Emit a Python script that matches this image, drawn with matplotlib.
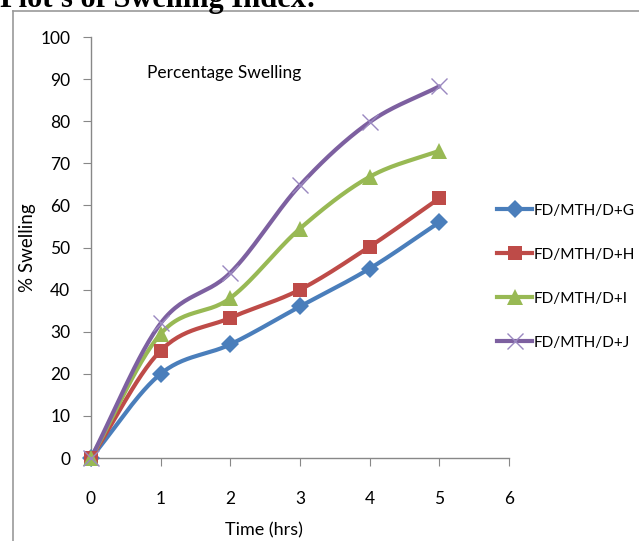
import numpy as np
import matplotlib
matplotlib.use("Agg")
import matplotlib.pyplot as plt
from matplotlib.lines import Line2D

# data
time_hrs = [0, 1, 2, 3, 4, 5]
swell_g = [0, 20, 27, 36, 45, 56]
swell_h = [0, 25.5, 33.3, 40, 50.2, 61.7]
swell_i = [0, 29.5, 38, 54.5, 66.8, 73]
swell_j = [0, 32, 44, 64.8, 79.8, 88.3]
labels = ["FD/MTH/D+G", "FD/MTH/D+H", "FD/MTH/D+I", "FD/MTH/D+J"]


def smooth(x, y, n=30):
    # Catmull-Rom curve through the points, like Excel's smoothed line
    x = np.asarray(x, float)
    y = np.asarray(y, float)
    px = np.concatenate([[2 * x[0] - x[1]], x, [2 * x[-1] - x[-2]]])
    py = np.concatenate([[2 * y[0] - y[1]], y, [2 * y[-1] - y[-2]]])
    xs, ys = [], []
    t = np.linspace(0, 1, n)
    for i in range(1, len(px) - 2):
        for p, out in ((px, xs), (py, ys)):
            p0, p1, p2, p3 = p[i - 1], p[i], p[i + 1], p[i + 2]
            out.extend(0.5 * ((2 * p1) + (-p0 + p2) * t
                              + (2 * p0 - 5 * p1 + 4 * p2 - p3) * t ** 2
                              + (-p0 + 3 * p1 - 3 * p2 + p3) * t ** 3))
    return xs, ys


plt.rcParams['font.family'] = ['Lato', 'DejaVu Sans']

fig = plt.figure(figsize=(6.39, 5.41), dpi=100)
ax = fig.add_axes([0.1424, 0.1534, 0.654, 0.778])

series = [
    (swell_g, "#4A7EBB", "D", 9, None),
    (swell_h, "#BE4B48", "s", 10, None),
    (swell_i, "#98B954", "^", 11, None),
    (swell_j, "#7D60A0", "x", 11, "#9A88C0"),
]

handles = []
for (vals, col, mk, ms, mcol), lab in zip(series, labels):
    sx, sy = smooth(time_hrs, vals)
    ax.plot(sx, sy, color=col, lw=3, solid_capstyle='round', clip_on=False)
    mc = mcol if mcol else col
    ax.plot(time_hrs, vals, ls='none', marker=mk, ms=ms, color=mc,
            mew=1 if mk == "x" else 0, clip_on=False, zorder=3)
    handles.append(Line2D([], [], color=col, lw=3, marker=mk, ms=ms,
                          markerfacecolor=mc, markeredgecolor=mc,
                          mew=1 if mk == "x" else 0))

ax.set_xlim(0, 6)
ax.set_ylim(0, 100)
ax.set_xticks(range(0, 7))
ax.set_yticks(range(0, 101, 10))
for s in ['top', 'right']:
    ax.spines[s].set_visible(False)
for s in ['left', 'bottom']:
    ax.spines[s].set_color('#888888')
    ax.spines[s].set_linewidth(1)
ax.tick_params(axis='x', colors='#888888', labelcolor='black', length=6,
               pad=18, labelsize=12.5)
ax.tick_params(axis='y', colors='#888888', labelcolor='black', length=6,
               pad=9, labelsize=12.5)

ax.text(0.8, 91.5, "Percentage Swelling", fontsize=12.5, va='center')

ax.set_xlabel("Time (hrs)", fontsize=13)
ax.xaxis.set_label_coords((264 - 91) / 418, -(530 - 458) / 421)
ax.xaxis.label.set_va('center')
ax.set_ylabel("% Swelling", fontsize=13.5)
ax.yaxis.set_label_coords(-(91 - 27) / 418, 0.5)
ax.yaxis.label.set_va('center')

fig.legend(handles, labels, loc='upper left', bbox_to_anchor=(0.768, 0.635),
           frameon=False, fontsize=11.1, handlelength=2.3, handletextpad=0.08,
           labelspacing=1.95, borderaxespad=0)

# outer frame around the chart area (left and top edges visible)
fig.add_artist(Line2D([13 / 639, 13 / 639], [0, 1 - 11 / 541],
                      transform=fig.transFigure, color='#999999', lw=1.2))
fig.add_artist(Line2D([13 / 639, 1], [1 - 11 / 541, 1 - 11 / 541],
                      transform=fig.transFigure, color='#999999', lw=1.2))

# heading above the chart, cut off at the top edge
fig.text(0.0, 1 - 7 / 541, "Plot's of Swelling Index:", fontsize=22,
         fontweight='bold', family='Liberation Serif', va='baseline')

fig.savefig("out.png", dpi=100)
